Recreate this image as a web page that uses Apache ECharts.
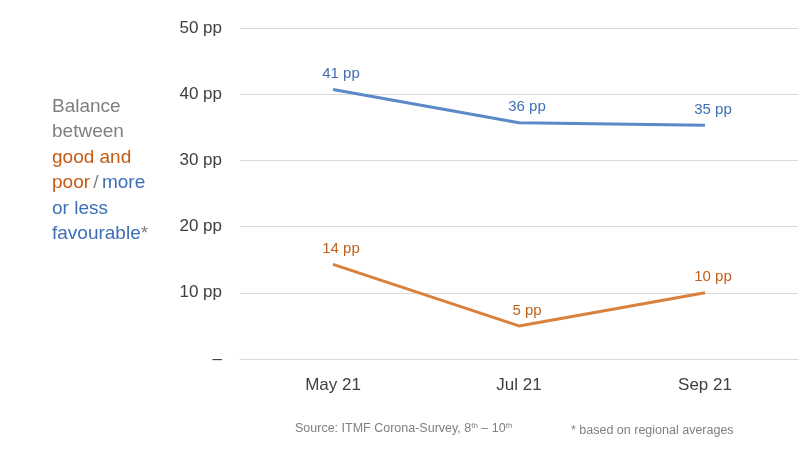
<!DOCTYPE html>
<html>
<head>
<meta charset="utf-8">
<script src="https://cdn.jsdelivr.net/npm/echarts@6/dist/echarts.min.js"></script>
<style>html,body{margin:0;padding:0;background:#fff}#chart{width:800px;height:455px}</style>
</head>
<body>
<div id="chart"></div>
<script>
var categories = ['May 21', 'Jul 21', 'Sep 21'];
var favourable = [40.7, 35.7, 35.3];
var goodPoor = [14.3, 5.0, 10.0];
var favourableLabels = ['41 pp', '36 pp', '35 pp'];
var goodPoorLabels = ['14 pp', '5 pp', '10 pp'];

var chart = echarts.init(document.getElementById('chart'));
var font = 'Liberation Sans, Arial, sans-serif';
chart.setOption({
    animation: false,
    grid: { left: 240, right: 2, top: 28, bottom: 96 },
    xAxis: [{
        type: 'category', data: categories, boundaryGap: true,
        axisLine: { lineStyle: { color: '#d9d9d9' } }, axisTick: { show: false },
        axisLabel: { show: false }
    }, {
        type: 'category', data: categories, boundaryGap: true, position: 'bottom',
        axisLine: { show: false }, axisTick: { show: false },
        axisLabel: { color: '#404040', fontSize: 17, fontFamily: font, margin: 18 }
    }],
    yAxis: {
        type: 'value', min: 0, max: 50, interval: 10,
        axisLabel: {
            color: '#404040', fontSize: 17, fontFamily: font, margin: 18,
            formatter: function (v) { return v === 0 ? '–' : v + ' pp'; }
        },
        splitLine: { lineStyle: { color: '#d9d9d9' } }
    },
    series: [{
        type: 'line', data: favourable, symbol: 'circle', symbolSize: 0, showSymbol: true,
        lineStyle: { color: '#5b8ac6', width: 3 },
        label: { show: true, position: 'top', distance: 8, color: '#3f6fb5', fontSize: 15, fontFamily: font,
            offset: [8, 0],
            formatter: function (p) { return favourableLabels[p.dataIndex]; } }
    }, {
        type: 'line', data: goodPoor, symbol: 'circle', symbolSize: 0, showSymbol: true,
        lineStyle: { color: '#d9803c', width: 3 },
        label: { show: true, position: 'top', distance: 8, color: '#c0601a', fontSize: 15, fontFamily: font,
            offset: [8, 0],
            formatter: function (p) { return goodPoorLabels[p.dataIndex]; } }
    }],
    graphic: [{
        type: 'text', left: 52, top: 94,
        style: {
            text: '{g|Balance}\n{g|between}\n{o|good and}\n{o|poor} {g|/} {b|more}\n{b|or less}\n{b|favourable}{g|*}',
            fontFamily: font, lineHeight: 25.5,
            rich: {
                g: { fill: '#7f7f7f', fontSize: 19, fontFamily: font },
                o: { fill: '#c55a11', fontSize: 19, fontFamily: font },
                b: { fill: '#3f6fb5', fontSize: 19, fontFamily: font }
            }
        }
    }, {
        type: 'text', left: 295, top: 422,
        style: {
            text: 'Source: ITMF Corona-Survey, 8{s|th} – 10{s|th}',
            fill: '#7f7f7f', fontSize: 12.5, fontFamily: font,
            rich: { s: { fontSize: 8, fill: '#7f7f7f', verticalAlign: 'top', padding: [0, 0, 6, 0] } }
        }
    }, {
        type: 'text', left: 571, top: 424,
        style: { text: '* based on regional averages', fill: '#7f7f7f', fontSize: 12.5, fontFamily: font }
    }]
});
</script>
</body>
</html>
